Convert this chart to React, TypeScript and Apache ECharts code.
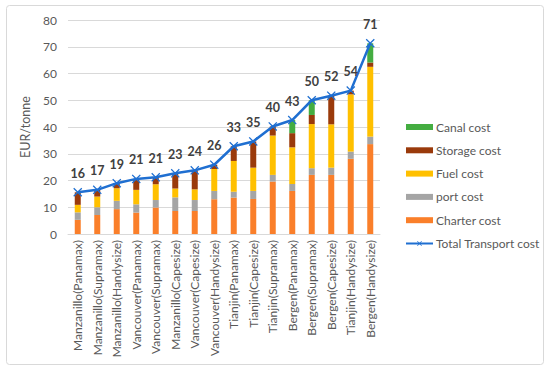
import React, { useEffect, useRef } from "react";
import * as echarts from "echarts";

const categories = [
  "Manzanillo(Panamax)",
  "Manzanillo(Supramax)",
  "Manzanillo(Handysize)",
  "Vancouver(Panamax)",
  "Vancouver(Supramax)",
  "Manzanillo(Capesize)",
  "Vancouver(Capesize)",
  "Vancouver(Handysize)",
  "Tianjin(Panamax)",
  "Tianjin(Capesize)",
  "Tianjin(Supramax)",
  "Bergen(Panamax)",
  "Bergen(Supramax)",
  "Bergen(Capesize)",
  "Tianjin(Handysize)",
  "Bergen(Handysize)",
];

const charterCost = [5.3, 7.1, 9.3, 8.0, 9.9, 8.6, 8.6, 13.0, 13.6, 13.1, 19.6, 16.1, 22.1, 22.1, 28.1, 33.6];
const portCost = [2.8, 2.9, 3.1, 3.1, 2.8, 5.1, 4.1, 3.1, 2.2, 3.0, 2.5, 2.6, 2.5, 2.7, 2.7, 2.8];
const fuelCost = [2.8, 4.0, 4.7, 5.4, 5.9, 3.3, 4.0, 8.2, 11.5, 8.7, 14.7, 13.7, 16.5, 16.2, 21.4, 26.1];
const storageCost = [4.7, 2.5, 1.9, 4.1, 2.6, 5.7, 7.1, 1.6, 5.5, 9.8, 3.4, 5.3, 3.4, 10.7, 1.4, 1.6];
const canalCost = [0, 0, 0, 0, 0, 0, 0, 0, 0, 0, 0, 4.9, 5.5, 0, 0, 7.2];
const totalCost = [15.6, 16.5, 19.0, 20.6, 21.2, 22.7, 23.8, 25.9, 32.8, 34.6, 40.2, 42.6, 50.0, 51.7, 53.6, 71.3];

const yTicks = { min: 0, max: 80, interval: 10 };

const FONT = "Lato, 'Liberation Sans', sans-serif";
const TEXT = "#595959";

export default function App() {
  const ref = useRef<HTMLDivElement>(null);
  useEffect(() => {
    if (!ref.current) return;
    const chart = echarts.init(ref.current, null, { renderer: "svg" });
    const barSeries = (name: string, data: number[], color: string) => ({
      name,
      type: "bar",
      stack: "cost",
      data,
      barWidth: 6,
      itemStyle: { color },
      emphasis: { disabled: true },
    });
    chart.setOption({
      animation: false,
      textStyle: { fontFamily: FONT },
      graphic: [
        {
          type: "rect",
          shape: { x: 6.5, y: 5.5, width: 537, height: 359, r: 3 },
          style: { fill: "none", stroke: "#D9D9D9", lineWidth: 1 },
          silent: true,
        },
      ],
      grid: { left: 68, right: 170, top: 20, bottom: 138 },
      legend: {
        orient: "vertical",
        left: 400,
        top: 116,
        itemWidth: 27,
        itemHeight: 6,
        itemGap: 11.3,
        textStyle: { color: TEXT, fontSize: 12, fontFamily: FONT, padding: [0, 0, 0, -2] },
        data: [
          { name: "Canal cost", icon: "rect" },
          { name: "Storage cost", icon: "rect" },
          { name: "Fuel cost", icon: "rect" },
          { name: "port cost", icon: "rect" },
          { name: "Charter cost", icon: "rect" },
          { name: "Total Transport cost" },
        ],
      },
      xAxis: {
        type: "category",
        data: categories,
        axisLine: { lineStyle: { color: "#D9D9D9" } },
        axisTick: { show: false },
        axisLabel: {
          rotate: 90,
          interval: 0,
          color: TEXT,
          fontSize: 12,
          margin: 6,
          fontFamily: FONT,
        },
      },
      yAxis: {
        type: "value",
        min: yTicks.min,
        max: yTicks.max,
        interval: yTicks.interval,
        name: "EUR/tonne",
        nameLocation: "middle",
        nameGap: 31,
        nameTextStyle: { color: TEXT, fontSize: 12.5, fontFamily: FONT },
        axisLine: { show: false },
        axisTick: { show: false },
        axisLabel: { color: TEXT, fontSize: 12, margin: 11, fontFamily: FONT },
        splitLine: { lineStyle: { color: "#D9D9D9" } },
      },
      series: [
        barSeries("Charter cost", charterCost, "#FA7F2A"),
        barSeries("port cost", portCost, "#A5A5A5"),
        barSeries("Fuel cost", fuelCost, "#FFC000"),
        barSeries("Storage cost", storageCost, "#9A3A0B"),
        barSeries("Canal cost", canalCost, "#44AD41"),
        {
          name: "Total Transport cost",
          type: "line",
          data: totalCost,
          symbol: "path://M0,1L1,0L5,4L9,0L10,1L6,5L10,9L9,10L5,6L1,10L0,9L4,5Z",
          symbolSize: 9,
          lineStyle: { color: "#1F6FD1", width: 2.5 },
          itemStyle: { color: "#1F6FD1" },
          emphasis: { disabled: true },
          label: {
            show: true,
            position: "top",
            distance: 8,
            color: "#404040",
            fontSize: 12.5,
            fontWeight: "bold",
            fontFamily: FONT,
            formatter: (p: any) => String(Math.round(p.value)),
          },
          z: 5,
        },
      ],
    });
    return () => chart.dispose();
  }, []);
  return (
    <div
      ref={ref}
      style={{ position: "fixed", left: 0, top: 0, width: 550, height: 372, background: "#fff" }}
    />
  );
}
